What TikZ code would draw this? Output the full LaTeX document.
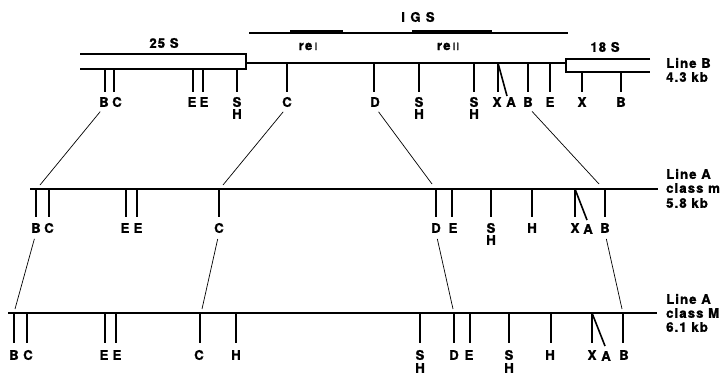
\documentclass[tikz,border=0pt]{standalone}
\usepackage{fontspec}
\setmainfont{TeX Gyre Heros}
\usepackage{tikz}

\begin{document}
\begin{tikzpicture}[x=1pt,y=-1pt,
  dna/.style={line width=2.6pt},
  site/.style={line width=1.6pt},
  link/.style={line width=0.7pt,shorten <=6pt},
  lbl/.style={font=\bfseries\fontsize{13.2}{13.2}\selectfont\addfontfeature{LetterSpace=8,FakeBold=1.2},inner sep=0pt}]
\useasboundingbox (0,0) rectangle (727,378);
% line B, 4.3 kb
\draw[line width=1.4pt] (249,33) -- (568,33);
\draw[line width=3.6pt] (290,32) -- (343,32);
\draw[line width=3.6pt] (412,32) -- (492,32);
\draw[dna] (80,54) -- (246,54) -- (246,69) -- (80,69);
\draw[dna] (246,63) -- (566,63);
\draw[dna] (650,59) -- (566,59) -- (566,72) -- (650,72);
\node[lbl] (tIGS) at (418,17) {\addfontfeature{LetterSpace=40}IGS};
\node[lbl] (t25S) at (164,43) {25 S};
\node[lbl] (t18S) at (605,47) {18 S};
\node[lbl,anchor=base] (tre1) at (308,50) {re\,{\mdseries\fontsize{10}{10}\selectfont I}};
\node[lbl,anchor=base] (tre2) at (448,50) {re\,{\mdseries\fontsize{10}{10}\selectfont II}};
\draw[site] (105,69) -- (105,92);
\draw[site] (114,69) -- (114,92);
\draw[site] (193,69) -- (193,92);
\draw[site] (203,69) -- (203,92);
\draw[site] (237,69) -- (237,92);
\draw[site] (287,63) -- (287,92);
\draw[site] (374,63) -- (374,92);
\draw[site] (419,63) -- (419,92);
\draw[site] (474,63) -- (474,92);
\draw[site] (498,63) -- (498,92);
\draw[site] (498,63) -- (507,96);
\draw[site] (528,63) -- (528,92);
\draw[site] (550,63) -- (550,92);
\draw[site] (582,72) -- (582,92);
\draw[site] (621,72) -- (621,92);
\node[lbl] (lbB1) at (104,102) {B};
\node[lbl] (lbC1) at (117,102) {C};
\node[lbl] (lbE1) at (192,102) {E};
\node[lbl] (lbE2) at (204,102) {E};
\node[lbl] (lbS1) at (237,102) {S};
\node[lbl] (lbH1) at (237,114) {H};
\node[lbl] (lbC2) at (287,102) {C};
\node[lbl] (lbD) at (375,102) {D};
\node[lbl] (lbS2) at (419,102) {S};
\node[lbl] (lbH2) at (419,114) {H};
\node[lbl] (lbS3) at (474,102) {S};
\node[lbl] (lbH3) at (474,114) {H};
\node[lbl] (lbX1) at (497,102) {X};
\node[lbl] (lbA) at (511,102) {A};
\node[lbl] (lbB2) at (528,102) {B};
\node[lbl] (lbE3) at (550,102) {E};
\node[lbl] (lbX2) at (582,102) {X};
\node[lbl] (lbB3) at (621,102) {B};
\node[lbl,anchor=west] (tb1) at (666,63) {Line B};
\node[lbl,anchor=west] (tb2) at (666,77) {4.3 kb};
% line A, class m, 5.8 kb
\draw[dna] (30,189) -- (658,189);
\draw[site] (36,189) -- (36,217);
\draw[site] (49,189) -- (49,217);
\draw[site] (126,189) -- (126,217);
\draw[site] (137,189) -- (137,217);
\draw[site] (219,189) -- (219,217);
\draw[site] (436,189) -- (436,217);
\draw[site] (452,189) -- (452,217);
\draw[site] (491,189) -- (491,217);
\draw[site] (532,189) -- (532,217);
\draw[site] (575,189) -- (575,217);
\draw[site] (575,189) -- (587,220);
\draw[site] (605,189) -- (605,217);
\node[lbl] (lmB1) at (36,228) {B};
\node[lbl] (lmC1) at (49,228) {C};
\node[lbl] (lmE1) at (125,228) {E};
\node[lbl] (lmE2) at (138,228) {E};
\node[lbl] (lmC2) at (219,228) {C};
\node[lbl] (lmD) at (436,228) {D};
\node[lbl] (lmE3) at (453,228) {E};
\node[lbl] (lmS) at (491,228) {S};
\node[lbl] (lmH1) at (491,240) {H};
\node[lbl] (lmH2) at (532,228) {H};
\node[lbl] (lmX) at (575,228) {X};
\node[lbl] (lmA) at (588,229) {A};
\node[lbl] (lmB2) at (605,228) {B};
\node[lbl,anchor=west] (tm1) at (666,174) {Line A};
\node[lbl,anchor=west] (tm2) at (666,188) {class m};
\node[lbl,anchor=west] (tm3) at (666,203) {5.8 kb};
% line A, class M, 6.1 kb
\draw[dna] (8,313) -- (657,313);
\draw[site] (14,313) -- (14,343);
\draw[site] (27,313) -- (27,343);
\draw[site] (105,313) -- (105,343);
\draw[site] (116,313) -- (116,343);
\draw[site] (200,313) -- (200,343);
\draw[site] (236,313) -- (236,343);
\draw[site] (420,313) -- (420,343);
\draw[site] (454,313) -- (454,343);
\draw[site] (470,313) -- (470,343);
\draw[site] (509,313) -- (509,343);
\draw[site] (551,313) -- (551,343);
\draw[site] (592,313) -- (592,343);
\draw[site] (592,313) -- (605,346);
\draw[site] (623,313) -- (623,343);
\node[lbl] (lMB1) at (14,355) {B};
\node[lbl] (lMC1) at (28,355) {C};
\node[lbl] (lME1) at (104,355) {E};
\node[lbl] (lME2) at (117,355) {E};
\node[lbl] (lMC2) at (199,355) {C};
\node[lbl] (lMH1) at (236,355) {H};
\node[lbl] (lMS1) at (420,355) {S};
\node[lbl] (lMH2) at (420,368) {H};
\node[lbl] (lMD) at (454,355) {D};
\node[lbl] (lME3) at (469,355) {E};
\node[lbl] (lMS2) at (509,355) {S};
\node[lbl] (lMH3) at (509,368) {H};
\node[lbl] (lMH4) at (550,355) {H};
\node[lbl] (lMX) at (592,355) {X};
\node[lbl] (lMA) at (606,356) {A};
\node[lbl] (lMB2) at (624,355) {B};
\node[lbl,anchor=west] (tM1) at (666,299) {Line A};
\node[lbl,anchor=west] (tM2) at (666,313) {class M};
\node[lbl,anchor=west] (tM3) at (666,327) {6.1 kb};
% links between the maps
\coordinate (eB1) at (40,185);
\coordinate (eC1) at (223,185);
\coordinate (eD1) at (432,184);
\coordinate (eB2) at (599,184);
\coordinate (eB3) at (15,309);
\coordinate (eC2) at (202,309);
\coordinate (eD2) at (453,309);
\coordinate (eB4) at (622,309);
\draw[link] (lbB1.south) -- (eB1);
\draw[link] (lbC2.south) -- (eC1);
\draw[link] (lbD.south) -- (eD1);
\draw[link] (lbB2.south) -- (eB2);
\draw[link] (lmB1.south) -- (eB3);
\draw[link] (lmC2.south) -- (eC2);
\draw[link] (lmD.south) -- (eD2);
\draw[link] (lmB2.south) -- (eB4);
\end{tikzpicture}
\end{document}
